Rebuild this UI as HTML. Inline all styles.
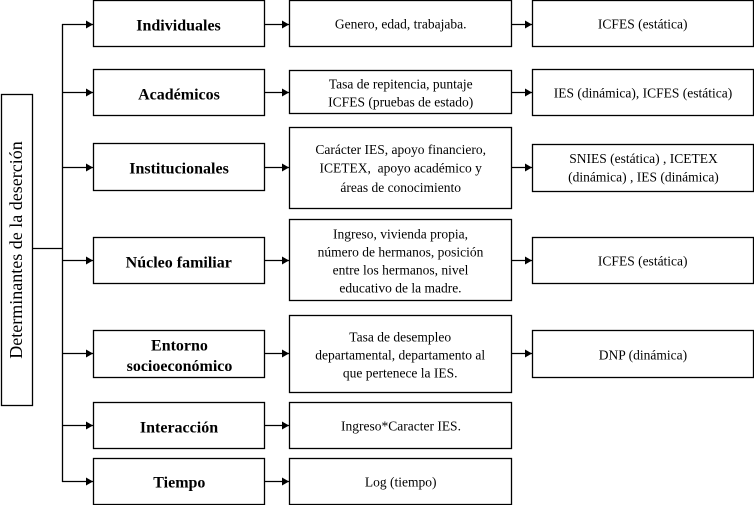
<!DOCTYPE html>
<html><head><meta charset="utf-8"><style>
html,body{margin:0;padding:0;background:#fff;width:754px;height:505px;overflow:hidden}
.t{position:absolute;font-family:"Liberation Serif","Times New Roman",serif;color:#000;text-align:center;display:flex;align-items:center;justify-content:center;white-space:nowrap;overflow:visible;font-size:18px}
.t span{display:block;transform-origin:50% 50%;flex:none;font-size:18px}
.b span{font-weight:bold;line-height:22.5px;transform:scale(.889)}
.n span{line-height:24px;transform:scale(.75)}
.n span.w{line-height:25.3px}
</style></head><body>
<div style="position:relative;width:754px;height:505px;overflow:hidden">
<svg width="754" height="505" viewBox="0 0 754 505" xmlns="http://www.w3.org/2000/svg" style="position:absolute;left:0;top:0">
<defs><marker id="a" markerWidth="8" markerHeight="8" refX="7" refY="4" orient="auto" markerUnits="userSpaceOnUse"><path d="M0,0 L7,4 L0,8 Z" fill="#000"/></marker></defs>
<g fill="none" stroke="#000" stroke-width="1.3">
<rect x="1.5" y="94.5" width="31" height="311"/>
<line x1="32" y1="248.5" x2="62.5" y2="248.5"/>
<line x1="62.5" y1="24" x2="62.5" y2="482"/>
<rect x="93.5" y="0.5" width="171" height="46"/>
<rect x="93.5" y="69.5" width="171" height="46"/>
<rect x="93.5" y="143.5" width="171" height="47"/>
<rect x="93.5" y="237.5" width="171" height="46"/>
<rect x="93.5" y="330.5" width="171" height="47"/>
<rect x="93.5" y="402.5" width="171" height="46"/>
<rect x="93.5" y="458.5" width="171" height="46"/>
<rect x="289.5" y="0.5" width="222" height="46"/>
<rect x="289.5" y="70.5" width="222" height="43"/>
<rect x="289.5" y="127.5" width="222" height="81"/>
<rect x="289.5" y="219.5" width="222" height="81"/>
<rect x="289.5" y="315.5" width="222" height="77"/>
<rect x="289.5" y="402.5" width="222" height="46"/>
<rect x="289.5" y="458.5" width="222" height="46"/>
<rect x="532.5" y="0.5" width="221" height="46"/>
<rect x="532.5" y="69.5" width="221" height="46"/>
<rect x="532.5" y="144.5" width="221" height="47"/>
<rect x="532.5" y="237.5" width="221" height="46"/>
<rect x="532.5" y="330.5" width="221" height="47"/>
</g>
<g stroke="#000" stroke-width="1.3" marker-end="url(#a)">
<line x1="62" y1="24.5" x2="93" y2="24.5"/>
<line x1="62" y1="92.5" x2="93" y2="92.5"/>
<line x1="62" y1="167.5" x2="93" y2="167.5"/>
<line x1="62" y1="260.5" x2="93" y2="260.5"/>
<line x1="62" y1="353.5" x2="93" y2="353.5"/>
<line x1="62" y1="425.5" x2="93" y2="425.5"/>
<line x1="62" y1="481.5" x2="93" y2="481.5"/>
<line x1="264" y1="24.5" x2="289" y2="24.5"/>
<line x1="264" y1="92.5" x2="289" y2="92.5"/>
<line x1="264" y1="167.5" x2="289" y2="167.5"/>
<line x1="264" y1="260.5" x2="289" y2="260.5"/>
<line x1="264" y1="353.5" x2="289" y2="353.5"/>
<line x1="264" y1="425.5" x2="289" y2="425.5"/>
<line x1="264" y1="481.5" x2="289" y2="481.5"/>
<line x1="511" y1="24.5" x2="532" y2="24.5"/>
<line x1="511" y1="92.5" x2="532" y2="92.5"/>
<line x1="511" y1="167.5" x2="532" y2="167.5"/>
<line x1="511" y1="260.5" x2="532" y2="260.5"/>
<line x1="511" y1="353.5" x2="532" y2="353.5"/>
</g>
</svg>
<div class="t" style="left:-139px;top:236px;width:310px;height:28px;font-size:18px;transform:rotate(-90deg)">Determinantes de la deserción</div>

<div class="t b" style="left:94px;top:2px;width:170px;height:46px"><span>Individuales</span></div>
<div class="t b" style="left:94px;top:71px;width:170px;height:46px"><span>Académicos</span></div>
<div class="t b" style="left:94px;top:145px;width:170px;height:47px"><span>Institucionales</span></div>
<div class="t b" style="left:94px;top:239px;width:170px;height:46px"><span>Núcleo familiar</span></div>
<div class="t b" style="left:94px;top:332px;width:170px;height:47px"><span>Entorno<br>socioeconómico</span></div>
<div class="t b" style="left:94px;top:404px;width:170px;height:46px"><span>Interacción</span></div>
<div class="t b" style="left:94px;top:459px;width:170px;height:46px"><span>Tiempo</span></div>

<div class="t n" style="left:290px;top:1px;width:221px;height:46px"><span>Genero, edad, trabajaba.</span></div>
<div class="t n" style="left:290px;top:71px;width:221px;height:43px"><span>Tasa de repitencia, puntaje<br>ICFES (pruebas de estado)</span></div>
<div class="t n" style="left:290px;top:128px;width:221px;height:81px"><span class="w">Carácter IES, apoyo financiero,<br>ICETEX,&nbsp; apoyo académico y<br>áreas de conocimiento</span></div>
<div class="t n" style="left:290px;top:220px;width:221px;height:81px"><span>Ingreso, vivienda propia,<br>número de hermanos, posición<br>entre los hermanos, nivel<br>educativo de la madre.</span></div>
<div class="t n" style="left:290px;top:316px;width:221px;height:77px"><span>Tasa de desempleo<br>departamental, departamento al<br>que pertenece la IES.</span></div>
<div class="t n" style="left:290px;top:403px;width:221px;height:46px"><span>Ingreso*Caracter IES.</span></div>
<div class="t n" style="left:290px;top:459px;width:221px;height:46px"><span>Log (tiempo)</span></div>

<div class="t n" style="left:533px;top:1px;width:220px;height:46px"><span>ICFES (estática)</span></div>
<div class="t n" style="left:533px;top:70px;width:220px;height:46px"><span>IES (dinámica), ICFES (estática)</span></div>
<div class="t n" style="left:533px;top:145px;width:220px;height:47px"><span class="w">SNIES (estática) , ICETEX<br>(dinámica) , IES (dinámica)</span></div>
<div class="t n" style="left:533px;top:238px;width:220px;height:46px"><span>ICFES (estática)</span></div>
<div class="t n" style="left:533px;top:331px;width:220px;height:47px"><span>DNP (dinámica)</span></div>
</div>
</body></html>
